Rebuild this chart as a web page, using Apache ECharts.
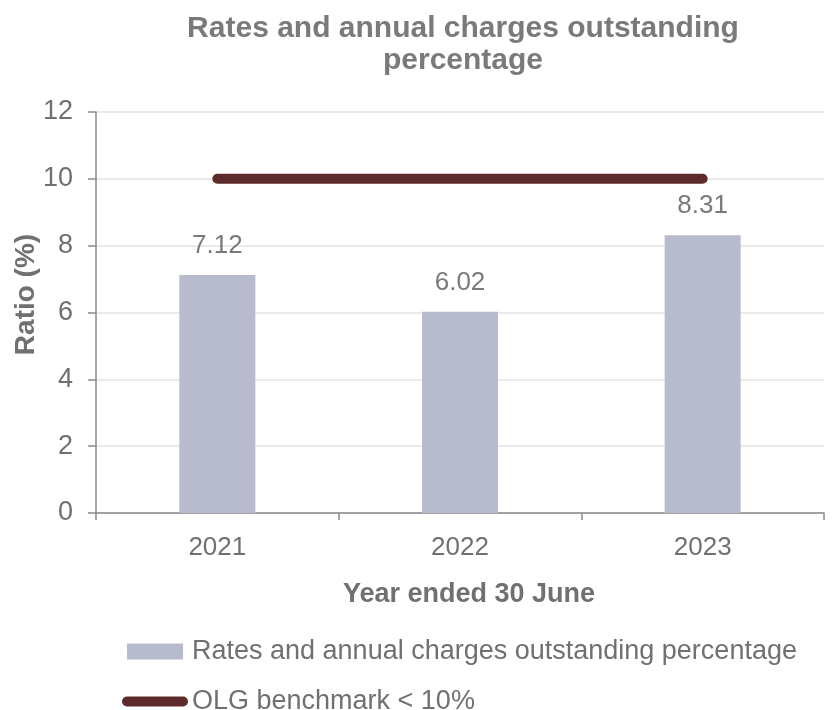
<!DOCTYPE html>
<html>
<head>
<meta charset="utf-8">
<script src="https://cdn.jsdelivr.net/npm/echarts@6/dist/echarts.min.js"></script>
<style>
  html, body { margin: 0; padding: 0; background: #ffffff; }
  #chart { width: 834px; height: 710px; }
</style>
</head>
<body>
<div id="chart"></div>
<script>
// Financial years shown on the category axis
const years = ['2021', '2022', '2023'];
// Rates and annual charges outstanding percentage, per year
const outstandingPct = [7.12, 6.02, 8.31];
// OLG benchmark level (10%) drawn across the years
const benchmark = [10, 10, 10];
// Value-axis ticks
const yTicks = [0, 2, 4, 6, 8, 10, 12];

const barName = 'Rates and annual charges outstanding percentage';
const lineName = 'OLG benchmark < 10%';
const font = '"Liberation Sans", Arial, sans-serif';
const grey = '#707070';

const chart = echarts.init(document.getElementById('chart'), null, { renderer: 'canvas' });

chart.setOption({
  animation: false,
  backgroundColor: '#ffffff',
  textStyle: { fontFamily: font },
  title: {
    text: 'Rates and annual charges outstanding\npercentage',
    left: 458,
    top: 8,
    textAlign: 'center',
    textStyle: {
      fontFamily: font,
      fontSize: 30,
      fontWeight: 'bold',
      color: '#7a7a7a',
      lineHeight: 32
    }
  },
  legend: [
    {
      data: [barName],
      left: 122,
      top: 633,
      icon: 'rect',
      itemWidth: 56,
      itemHeight: 16,
      itemGap: 0,
      textStyle: { fontFamily: font, fontSize: 27, color: grey, padding: [0, 0, 0, 4] }
    },
    {
      data: [lineName],
      left: 117,
      top: 683,
      icon: 'path://M5,0 L61,0 A5,5 0 0 1 61,10 L5,10 A5,5 0 0 1 5,0 Z',
      itemWidth: 66,
      itemHeight: 11,
      textStyle: { fontFamily: font, fontSize: 27, color: grey, padding: [0, 0, 0, -1] }
    }
  ],
  grid: {
    left: 96,
    right: 10,
    top: 112,
    bottom: 197,
    outerBoundsMode: 'none',
    containLabel: false
  },
  xAxis: {
    type: 'category',
    data: years,
    name: 'Year ended 30 June',
    nameLocation: 'middle',
    nameGap: 68,
    nameMoveOverlap: false,
    nameTextStyle: { fontFamily: font, fontSize: 27, fontWeight: 'bold', color: grey, padding: [0, 0, 0, 18] },
    axisLine: { lineStyle: { color: '#8a8a8a', width: 1.5 } },
    axisTick: { show: true, length: 7, lineStyle: { color: '#8a8a8a', width: 1.5 } },
    axisLabel: { fontFamily: font, fontSize: 26, color: grey, margin: 22 },
    splitLine: { show: false }
  },
  yAxis: {
    type: 'value',
    min: yTicks[0],
    max: yTicks[yTicks.length - 1],
    interval: yTicks[1] - yTicks[0],
    name: 'Ratio (%)',
    nameLocation: 'middle',
    nameGap: 56,
    nameMoveOverlap: false,
    nameTextStyle: { fontFamily: font, fontSize: 28, fontWeight: 'bold', color: grey, padding: [0, 0, 0, 36] },
    axisLine: { show: true, lineStyle: { color: '#8a8a8a', width: 1.5 } },
    axisTick: { show: true, inside: false, length: 8, lineStyle: { color: '#8a8a8a', width: 1.5 } },
    axisLabel: { fontFamily: font, fontSize: 27, color: grey, margin: 23 },
    splitLine: { show: true, lineStyle: { color: '#e3e3e3', width: 1.5 } }
  },
  series: [
    {
      name: barName,
      type: 'bar',
      data: outstandingPct,
      barWidth: 76,
      itemStyle: { color: '#b8bbcd' },
      label: {
        show: true,
        position: 'top',
        distance: 16,
        fontFamily: font,
        fontSize: 26,
        color: '#7a7a7a',
        formatter: p => p.value.toFixed(2)
      },
      z: 2
    },
    {
      name: lineName,
      type: 'line',
      data: benchmark,
      showSymbol: false,
      symbol: 'none',
      lineStyle: { color: '#5e2b2d', width: 10, cap: 'round' },
      itemStyle: { color: '#5e2b2d' },
      z: 3
    }
  ]
});
</script>
</body>
</html>
